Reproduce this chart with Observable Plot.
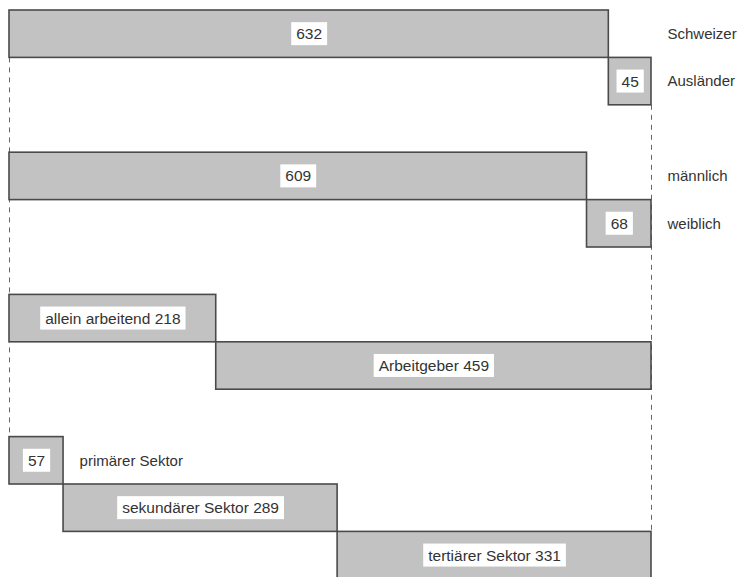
<!DOCTYPE html>
<html>
<head>
<meta charset="utf-8">
<script src="https://cdn.jsdelivr.net/npm/d3@7"></script>
<script src="https://cdn.jsdelivr.net/npm/@observablehq/plot@0.6"></script>
<style>
  html, body { margin: 0; padding: 0; background: #fff; }
  #chart svg { display: block; overflow: hidden; }
</style>
</head>
<body>
<div id="chart"></div>
<script>
// ---- data ----
const categories = ["Schweizer", "Ausländer", "männlich", "weiblich",
  "allein arbeitend", "Arbeitgeber",
  "primärer Sektor", "sekundärer Sektor", "tertiärer Sektor"];
const values = [632, 45, 609, 68, 218, 459, 57, 289, 331];
const groupOf = [0, 0, 1, 1, 2, 2, 3, 3, 3];
// groups whose names are written beside the bars (value only inside)
const sideNamedGroups = [0, 1];

// ---- build rows: each group stacked cumulatively, one empty row between groups ----
const cum = {};
const rows = categories.map((name, i) => {
  const g = groupOf[i];
  const start = cum[g] || 0;
  cum[g] = start + values[i];
  return {name, value: values[i], group: g, row: i + g, x1: start, x2: start + values[i]};
});
const groupTotal = g => d3.sum(rows.filter(r => r.group === g), r => r.value);
const total = groupTotal(0);
const nRows = d3.max(rows, r => r.row) + 1;

const inside = rows.map(r => {
  const side = sideNamedGroups.includes(r.group);
  const fits = !side && r.value >= 100;
  return {...r, label: fits ? `${r.name} ${r.value}` : `${r.value}`};
});
const outside = rows.filter(r => sideNamedGroups.includes(r.group) || r.value < 100)
  .map(r => ({...r, lx: sideNamedGroups.includes(r.group) ? groupTotal(r.group) : r.x2}));

const lastGroup = d3.max(groupOf);
const firstLast = rows.filter(r => r.group === lastGroup);
const firstGroup = rows.filter(r => r.group === 0);
const rules = [
  {x: 0, y1: rows[0].row + 1, y2: firstLast[0].row},
  {x: total, y1: d3.max(firstGroup, r => r.row) + 1, y2: d3.max(firstLast, r => r.row)}
];

const font = "'Liberation Sans', Arial, Helvetica, sans-serif";

const chart = Plot.plot({
  width: 745,
  height: 577,
  marginLeft: 9,
  marginRight: 94,
  marginTop: 10,
  marginBottom: 0,
  style: {fontFamily: font, fontSize: "15px", color: "#333", background: "#fff"},
  x: {domain: [0, total], axis: null},
  y: {domain: [0, nRows], range: [10, 10 + nRows * 47.4], axis: null},
  marks: [
    Plot.ruleX(rules, {x: "x", y1: "y1", y2: "y2", stroke: "#666", strokeWidth: 1, strokeDasharray: "5,5"}),
    Plot.rect(rows, {x1: "x1", x2: "x2", y1: "row", y2: d => d.row + 1,
      fill: "#c2c2c2", stroke: "#4a4a4a", strokeWidth: 1.6}),
    Plot.text(inside, {x: d => (d.x1 + d.x2) / 2, y: d => d.row + 0.5, text: "label",
      fill: "#333", fontSize: 15.5, className: "boxed"}),
    Plot.text(outside, {x: "lx", y: d => d.row + 0.5, text: "name", textAnchor: "start", dx: 16,
      fill: "#333", fontSize: 15})
  ]
});

document.getElementById("chart").appendChild(chart);

// white boxes behind the in-bar labels, sized from the rendered text
chart.querySelectorAll("g.boxed text").forEach(t => {
  const b = t.getBBox();
  const r = document.createElementNS("http://www.w3.org/2000/svg", "rect");
  r.setAttribute("x", b.x - 5);
  r.setAttribute("y", b.y - 3);
  r.setAttribute("width", b.width + 10);
  r.setAttribute("height", b.height + 6);
  r.setAttribute("fill", "#fff");
  const tf = t.getAttribute("transform");
  if (tf) r.setAttribute("transform", tf);
  t.parentNode.insertBefore(r, t);
});
</script>
</body>
</html>
